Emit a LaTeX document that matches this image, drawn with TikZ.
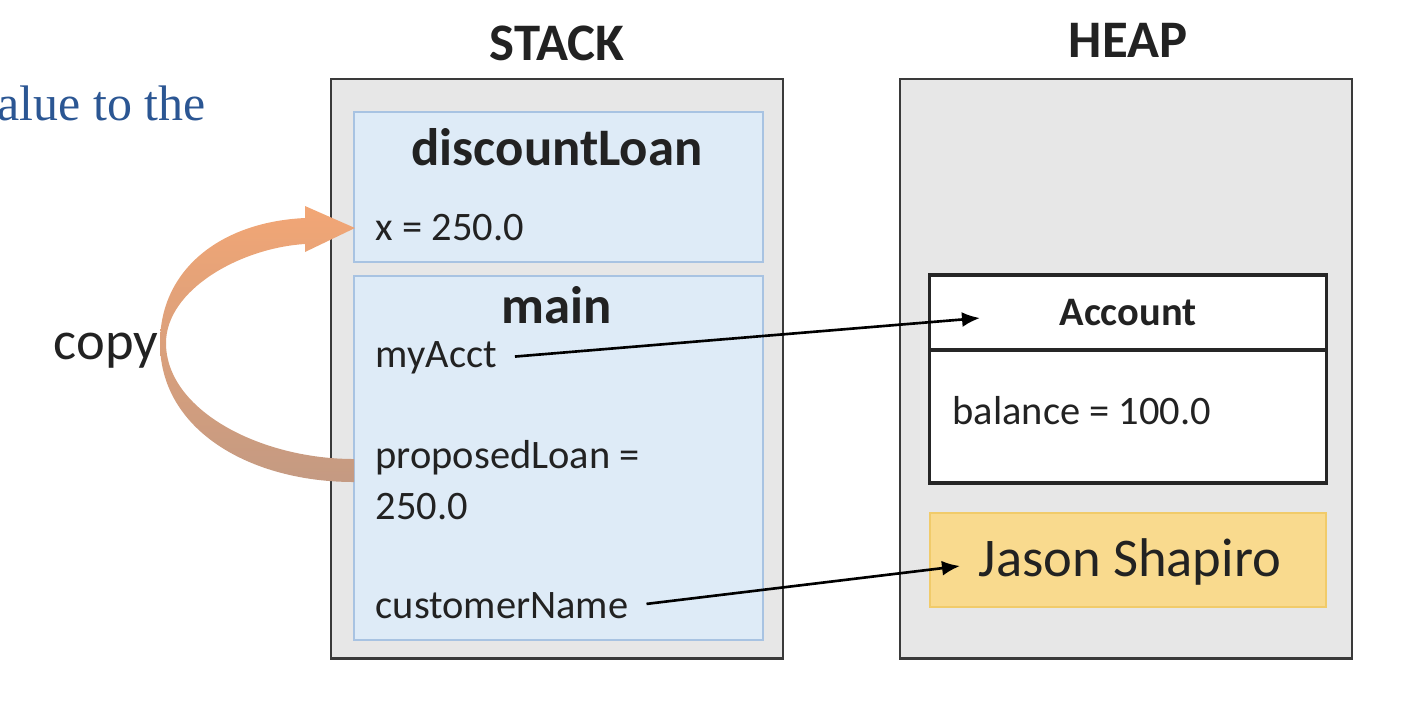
\documentclass[tikz,border=0pt]{standalone}
\usepackage{fontspec}
\setmainfont{Carlito}
\newfontfamily\slidefont{Liberation Serif}
\usetikzlibrary{arrows.meta}

\definecolor{areafill}{HTML}{E7E7E7}
\definecolor{areaedge}{HTML}{3A3A3A}
\definecolor{framefill}{HTML}{DEEBF7}
\definecolor{frameedge}{HTML}{A8C3E2}
\definecolor{jasonfill}{HTML}{F9DA8E}
\definecolor{jasonedge}{HTML}{F1CB6A}
\definecolor{copytop}{HTML}{F2A675}
\definecolor{copybot}{HTML}{C49A82}
\definecolor{slideblue}{HTML}{2B5693}
\definecolor{txt}{HTML}{222222}

\begin{document}
\begin{tikzpicture}[x=0.01cm, y=-0.01cm,
    area/.style={draw=areaedge, line width=0.75pt, fill=areafill, minimum width=4.52cm, minimum height=5.79cm, inner sep=0pt},
    frame/.style={draw=frameedge, line width=0.4pt, fill=framefill, minimum width=4.09cm, inner sep=0pt},
    heading/.style={text=txt, font=\bfseries\fontsize{15}{18}\selectfont},
    var/.style={anchor=west, inner sep=0pt, text=txt, font=\fontsize{11.5}{14}\selectfont},
    objbox/.style={draw=black!85, line width=0.9pt, fill=white, minimum width=3.96cm, inner sep=0pt},
    ref/.style={-{Latex[length=1.8mm, width=1.5mm]}, line width=0.75pt, shorten <=5pt}]
    \useasboundingbox (0,0) rectangle (1404,702);
    \clip (0,0) rectangle (1404,702);

    % slide text cut off at the left
    \node (slide) at (-3,103) [anchor=west, inner sep=0pt, text=slideblue, font=\slidefont\fontsize{14.2}{17}\selectfont] {alue to the};

    % stack and heap
    \node (stacktitle) at (557,43) [heading] {STACK};
    \node (heaptitle) at (1128,40) [heading] {HEAP};
    \node (stack) at (557,368.5) [area] {};
    \node (heap) at (1126,368.5) [area] {};

    % frames on the stack
    \node (discount) at (558.5,187) [frame, minimum height=1.5cm] {};
    \node (mainframe) at (558.5,458) [frame, minimum height=3.64cm] {};
    \node (discountname) at (557,147) [heading] {discountLoan};
    \node (xval) at (375,228) [var] {x = 250.0};
    \node (mainname) at (557,305) [heading] {main};
    \node (myacct) at (375,358) [var] {myAcct};
    \node (loan) at (375,458) [var] {proposedLoan =};
    \node (loanval) at (375,507) [var] {250.0};
    \node (custname) at (375,606) [var] {customerName};

    % objects on the heap
    \node (account) at (1128,312.5) [objbox, minimum height=0.75cm, text=txt, font=\bfseries\fontsize{11.5}{14}\selectfont] {Account};
    \node (acctbody) at (1128,416.5) [objbox, minimum height=1.33cm] {};
    \node (balance) at (952,411) [var] {balance = 100.0};
    \node (jason) at (1128,560) [draw=jasonedge, line width=0.4pt, fill=jasonfill, minimum width=3.96cm, minimum height=0.94cm, inner sep=0pt] {};
    \node (jasonname) at (978,562) [anchor=west, inner sep=0pt, text=txt, font=\fontsize{15.5}{19}\selectfont] {Jason Shapiro};

    % copy arrow
    \node (copy) at (106,351) [text=txt, font=\fontsize{15.5}{19}\selectfont] {copy};
    \shade[top color=copytop, bottom color=copybot]
        (354,482) .. controls (250,482) and (160,430) .. (160,343)
        .. controls (160,270) and (220,222) .. (305,218)
        -- (305,206) -- (355,228) -- (305,252) -- (305,244)
        .. controls (240,248) and (166,290) .. (166,343)
        .. controls (166,410) and (260,459) .. (354,459) -- cycle;

    % references
    \coordinate (accthit) at (980,318);
    \coordinate (jasonhit) at (960,566);
    \draw [ref] (myacct.east) -- (accthit);
    \draw [ref] (custname.east) -- (jasonhit);
\end{tikzpicture}
\end{document}
